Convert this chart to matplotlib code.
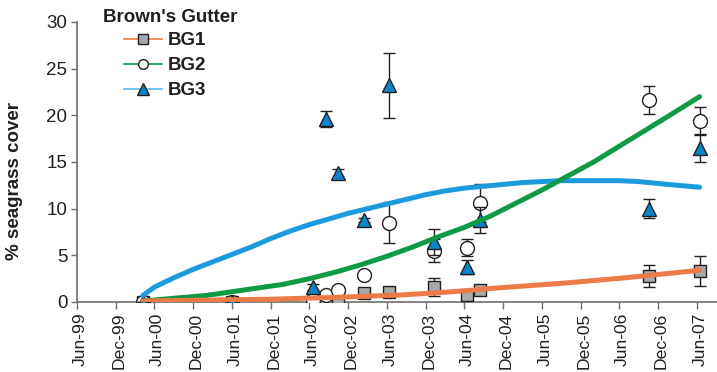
import numpy as np
import matplotlib.pyplot as plt
import matplotlib.transforms as mtransforms
from matplotlib.lines import Line2D

plt.rcParams['font.family'] = ['Liberation Sans', 'DejaVu Sans']

# survey dates as months after Jun-99
survey = [10.2, 24.0, 36.5, 38.5, 40.4, 44.4, 48.3, 55.3, 60.4, 62.4, 88.5, 96.4]

# mean % cover and error for each site
bg1 = [0, 0, 0.1, 0.2, 0.3, 1.0, 1.1, 1.6, 0.75, 1.3, 2.8, 3.3]
bg1_err = [0, 0, 0, 0, 0, 0.2, 0.2, 1.0, 0.2, 0.3, 1.2, 1.6]
bg2 = [0, 0, 0.2, 0.7, 1.3, 2.9, 8.5, 5.5, 5.8, 10.6, 21.6, 19.4]
bg2_err = [0, 0, 0, 0, 0, 0, 2.2, 1.2, 0.9, 2.0, 1.5, 1.5]
bg3 = [0, 0, 1.6, 19.6, 13.8, 8.8, 23.2, 6.4, 3.75, 8.8, 10.0, 16.5]
bg3_err = [0, 0, 0.3, 0.9, 0.5, 0.2, 3.5, 1.4, 0.7, 1.4, 1.0, 1.5]

# fitted recovery curves
fit1_x = [10.2, 20, 30, 40, 50, 55, 60, 65, 70, 75, 80, 85, 90, 96.4]
fit1_y = [0.1, 0.2, 0.3, 0.5, 0.75, 0.95, 1.2, 1.5, 1.75, 2.0, 2.3, 2.6, 2.95, 3.4]
fit2_x = [10.2, 15, 20, 24, 28, 32, 36, 40, 44, 48, 52, 56, 60, 64, 68, 72, 76, 80, 84,
          88, 92, 96.4]
fit2_y = [0.1, 0.4, 0.7, 1.1, 1.5, 1.9, 2.5, 3.2, 4.0, 4.9, 5.9, 7.0, 8.0, 9.2, 10.6,
          12.0, 13.5, 15.0, 16.7, 18.4, 20.1, 22.0]
fit3_x = [10.2, 12, 15, 18, 21, 24, 27, 30, 33, 36, 39, 42, 45, 48, 51, 54, 57, 60, 63,
          66, 69, 72, 75, 78, 81, 84, 87, 90, 93, 96.4]
fit3_y = [0.7, 1.6, 2.6, 3.5, 4.3, 5.1, 5.9, 6.8, 7.6, 8.3, 8.9, 9.5, 10.0, 10.5, 11.0,
          11.5, 11.9, 12.2, 12.4, 12.6, 12.8, 12.9, 13.0, 13.0, 13.0, 13.0, 12.9, 12.7,
          12.5, 12.3]

tick_labels = ['Jun-99', 'Dec-99', 'Jun-00', 'Dec-00', 'Jun-01', 'Dec-01', 'Jun-02',
               'Dec-02', 'Jun-03', 'Dec-03', 'Jun-04', 'Dec-04', 'Jun-05', 'Dec-05',
               'Jun-06', 'Dec-06', 'Jun-07']

C_ORANGE = '#ee7b47'
C_GREEN = '#0e9a47'
C_BLUE = '#1c9ade'
C_TRI = '#0a84c8'
C_GRAY = '#a7a9ac'
C_TEXT = '#231f20'
C_AXIS = '#6d6e71'
FS = 13.5

fig = plt.figure(figsize=(7.17, 3.72), dpi=100)
ax = fig.add_axes([77 / 717, 70 / 372, 640 / 717, 280 / 372])

eb = dict(fmt='none', ecolor=C_TEXT, elinewidth=1.0, capsize=4, capthick=1.0, zorder=2)
mk = dict(linestyle='none', markeredgecolor=C_TEXT, markeredgewidth=1.0, zorder=2)

ax.errorbar(survey, bg1, yerr=bg1_err, **eb)
ax.plot(survey, bg1, marker='s', markersize=9, markerfacecolor=C_GRAY, **mk)
ax.errorbar(survey, bg2, yerr=bg2_err, **eb)
ax.plot(survey, bg2, marker='o', markersize=10, markerfacecolor='white', **mk)
ax.errorbar(survey, bg3, yerr=bg3_err, **eb)
ax.plot(survey, bg3, marker='^', markersize=10.5, markerfacecolor=C_TRI, **mk)

ax.plot(fit3_x, fit3_y, color=C_BLUE, lw=3.6, solid_capstyle='round', zorder=4)
ax.plot(fit2_x, fit2_y, color=C_GREEN, lw=3.6, solid_capstyle='round', zorder=4)
ax.plot(fit1_x, fit1_y, color=C_ORANGE, lw=3.6, solid_capstyle='round', zorder=4)

ax.set_xlim(0, 99.1)
ax.set_ylim(0, 30)
ax.set_xticks(np.arange(0, 97, 6))
ax.set_xticklabels(tick_labels, rotation=90, fontsize=12.6, color=C_TEXT)
ax.set_yticks(np.arange(0, 31, 5))
ax.tick_params(axis='y', labelsize=FS, labelcolor=C_TEXT, length=4, width=1, color=C_AXIS, pad=3)
ax.tick_params(axis='x', length=5, width=1, color=C_AXIS, pad=2.5)
for lab in ax.get_xticklabels():
    lab.set_transform(lab.get_transform() + mtransforms.ScaledTranslation(3 / 100, 0, fig.dpi_scale_trans))

for side in ('top', 'right'):
    ax.spines[side].set_visible(False)
for side in ('left', 'bottom'):
    ax.spines[side].set_color(C_AXIS)
    ax.spines[side].set_linewidth(1.2)
ax.spines['bottom'].set_zorder(1)

fig.text(15 / 717, 1 - 181 / 372, '% seagrass cover', rotation=90, ha='center', va='center',
         fontsize=FS, fontweight='bold', color=C_TEXT)

# legend
fig.text(103 / 717, 1 - 17 / 372, "Brown's Gutter", ha='left', va='center',
         fontsize=FS, fontweight='bold', color=C_TEXT)
handles = [
    Line2D([], [], color=C_ORANGE, lw=1.2, marker='s', markersize=7,
           markerfacecolor=C_GRAY, markeredgecolor=C_TEXT, markeredgewidth=1.0),
    Line2D([], [], color=C_GREEN, lw=1.2, marker='o', markersize=7,
           markerfacecolor='white', markeredgecolor=C_TEXT, markeredgewidth=1.0),
    Line2D([], [], color='#5ab6e8', lw=1.2, marker='^', markersize=8,
           markerfacecolor=C_TRI, markeredgecolor=C_TEXT, markeredgewidth=1.0),
]
leg = fig.legend(handles, ['BG1', 'BG2', 'BG3'], loc='upper left',
                 bbox_to_anchor=(124 / 717, 1 - 32 / 372), frameon=False,
                 borderpad=0, borderaxespad=0, handlelength=2.0, handletextpad=0.35,
                 labelspacing=0.42, prop={'size': FS, 'weight': 'bold'})
for t in leg.get_texts():
    t.set_color(C_TEXT)

fig.savefig('out.png', dpi=100)
